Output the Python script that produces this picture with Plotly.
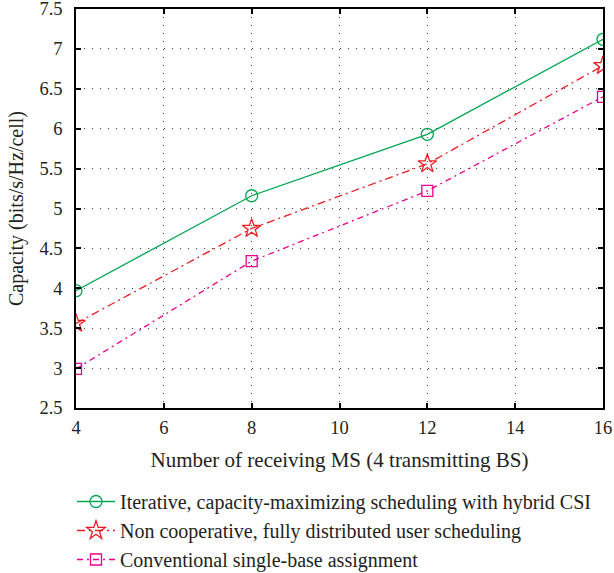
import plotly.graph_objects as go

x_ms = [4, 8, 12, 16]
iterative = [3.97, 5.16, 5.93, 7.12]
noncoop = [3.56, 4.75, 5.56, 6.79]
conventional = [2.99, 4.34, 5.22, 6.40]

names = [
    "Iterative, capacity-maximizing scheduling with hybrid CSI",
    "Non cooperative, fully distributed user scheduling",
    "Conventional single-base assignment",
]
colors = ["#00a651", "#ed1c24", "#ec008c"]
symbols = ["circle-open", "star-open", "square-open"]
dashes = ["solid", "8px,4px,2px,4px", "6px,4px,2px,4px"]
sizes = [12, 14, 11]
series = [iterative, noncoop, conventional]

FONT = "Liberation Serif"
TXT = "#231f20"

fig = go.Figure()
for nm, ys, c, s, d, sz in zip(names, series, colors, symbols, dashes, sizes):
    fig.add_trace(go.Scatter(
        x=x_ms, y=ys, name=nm, mode="lines+markers",
        line=dict(color=c, width=1.3, dash=d),
        marker=dict(symbol=s, size=sz, color=c, line=dict(color=c, width=1.3)),
    ))

axis_common = dict(
    showline=True, linecolor="black", linewidth=1.5, mirror="allticks",
    ticks="inside", ticklen=5, tickwidth=1.5, tickcolor="black",
    showgrid=True, gridcolor="#444444", griddash="1px,7px", gridwidth=1.3,
    zeroline=False, tickfont=dict(family=FONT, size=18.5, color=TXT),
    automargin=False, ticklabeloverflow="allow",
)

plot_h = 573 - 9 - 165

fig.update_layout(
    width=614, height=573,
    margin=dict(l=76, r=11, t=9, b=165, autoexpand=False),
    paper_bgcolor="white", plot_bgcolor="white",
    font=dict(family=FONT, size=18, color=TXT),
    xaxis=dict(range=[4, 16], dtick=2, tick0=4, ticklabelstandoff=2,
               title=dict(text="Number of receiving MS (4 transmitting BS)",
                          font=dict(family=FONT, size=21, color=TXT), standoff=15),
               **axis_common),
    yaxis=dict(range=[2.5, 7.5], dtick=0.5, tick0=2.5, ticklabelstandoff=8,
               title=dict(text="Capacity (bits/s/Hz/cell)",
                          font=dict(family=FONT, size=20, color=TXT), standoff=10),
               **axis_common),
    legend=dict(orientation="v", xref="paper", yref="paper",
                x=(72 - 76) / 527, y=-(482 - 408) / plot_h, xanchor="left", yanchor="top",
                font=dict(family=FONT, size=20, color=TXT),
                tracegroupgap=0, itemwidth=38, bgcolor="rgba(0,0,0,0)"),
    showlegend=True,
)

fig.write_html("out.html")
